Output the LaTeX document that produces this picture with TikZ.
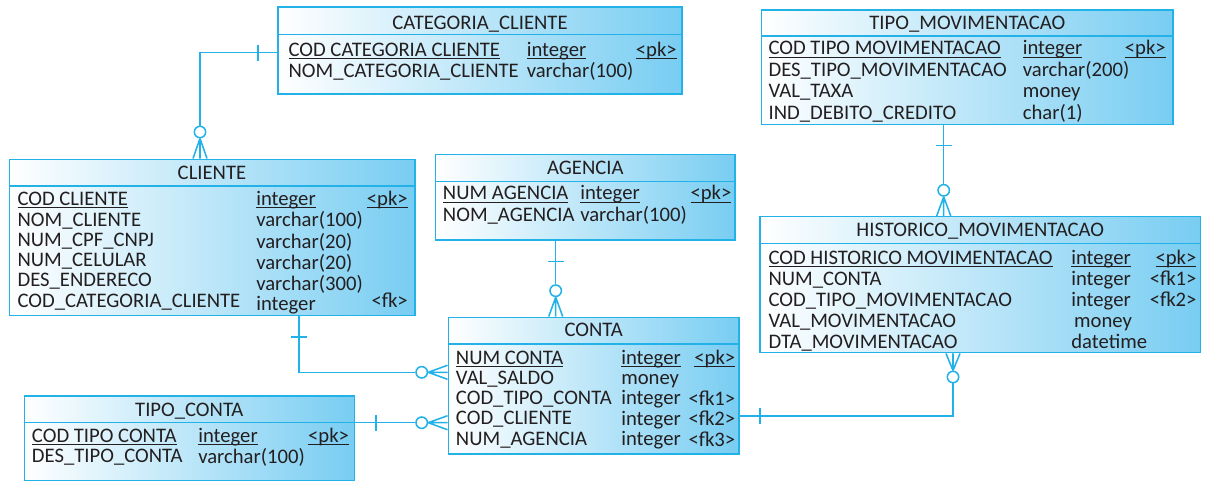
\documentclass[tikz,border=0pt]{standalone}
\usepackage{fontspec}
\setmainfont{Carlito}
\usetikzlibrary{fit,calc}
\definecolor{erline}{RGB}{35,178,232}
\definecolor{erfill}{RGB}{120,205,242}
\definecolor{ertext}{RGB}{35,31,32}
\tikzstyle{entity} = [draw=erline, line width=1.1pt, left color=white, right color=erfill, inner sep=0pt]
\tikzstyle{sepline} = [draw=erline, line width=1.1pt]
\tikzstyle{rel} = [draw=erline, line width=1.1pt]
\tikzstyle{opt} = [circle, draw=erline, line width=1.1pt, fill=white, inner sep=0pt, minimum size=0.285cm]
\tikzstyle{ttl} = [inner sep=0pt, anchor=base, text=ertext, font=\fontsize{14.7}{16}\selectfont]
\tikzstyle{cols} = [inner sep=0pt, text=ertext, anchor=base west]
\tikzstyle{keys} = [inner sep=0pt, text=ertext, anchor=base east]
\newcommand{\rows}[1]{\fontsize{14.7}{#1}\selectfont}
\newcommand{\colL}[1]{\begin{tabular}[t]{@{}l@{}}#1\end{tabular}}
\newcommand{\colR}[1]{\begin{tabular}[t]{@{}r@{}}#1\end{tabular}}
\newcommand{\ulin}[1]{\underline{\smash{#1}}}

\begin{document}
\begin{tikzpicture}[x=0.025cm, y=-0.025cm]
		\useasboundingbox (0,0) rectangle (1208,491);
		% tables
		\node[entity, fit={(278,7) (682,94)}] (catcli) {};
		\draw[sepline] (catcli.west |- 0,34.3) -- (catcli.east |- 0,34.3);
		\node[ttl] (catcli-t) at (480,29.3) {CATEGORIA\_CLIENTE};
		\node[cols, font=\rows{14.65}] (catcli-n) at (288.3,56.7) {\colL{\ulin{COD CATEGORIA CLIENTE}\\NOM\_CATEGORIA\_CLIENTE}};
		\node[cols, font=\rows{14.65}] (catcli-d) at (526.5,56.7) {\colL{\ulin{integer}\\varchar(100)}};
		\node[keys, font=\rows{14.65}] (catcli-k) at (677,56.7) {\colR{\ulin{<pk>}}};

		\node[entity, fit={(761.5,10) (1173,124.3)}] (tipmov) {};
		\draw[sepline] (tipmov.west |- 0,36) -- (tipmov.east |- 0,36);
		\node[ttl] (tipmov-t) at (967.3,29.3) {TIPO\_MOVIMENTACAO};
		\node[cols, font=\rows{15.22}] (tipmov-n) at (768.3,55) {\colL{\ulin{COD TIPO MOVIMENTACAO}\\DES\_TIPO\_MOVIMENTACAO\\VAL\_TAXA\\IND\_DEBITO\_CREDITO}};
		\node[cols, font=\rows{15.22}] (tipmov-d) at (1022.5,55) {\colL{\ulin{integer}\\varchar(200)\\money\\char(1)}};
		\node[keys, font=\rows{15.22}] (tipmov-k) at (1166,55) {\colR{\ulin{<pk>}}};

		\node[entity, fit={(9.3,159.3) (415,315.5)}] (cli) {};
		\draw[sepline] (cli.west |- 0,186) -- (cli.east |- 0,186);
		\node[ttl] (cli-t) at (212,180) {CLIENTE};
		\node[cols, font=\rows{14.44}] (cli-n) at (17.3,205.7) {\colL{\ulin{COD CLIENTE}\\NOM\_CLIENTE\\NUM\_CPF\_CNPJ\\NUM\_CELULAR\\DES\_ENDERECO\\COD\_CATEGORIA\_CLIENTE}};
		\node[cols, font=\rows{14.44}] (cli-d) at (256,205.7) {\colL{\ulin{integer}\\varchar(100)\\varchar(20)\\varchar(20)\\varchar(300)\\integer}};
		\node[keys, font=\rows{14.44}] (cli-k) at (408,205.7) {\colR{\ulin{<pk>}\\ \\ \\ \\ \\<fk>}};

		\node[entity, fit={(435.7,154.3) (735,240)}] (ag) {};
		\draw[sepline] (ag.west |- 0,181.7) -- (ag.east |- 0,181.7);
		\node[ttl] (ag-t) at (585.3,174.3) {AGENCIA};
		\node[cols, font=\rows{15.44}] (ag-n) at (442.7,200) {\colL{\ulin{NUM AGENCIA}\\NOM\_AGENCIA}};
		\node[cols, font=\rows{15.44}] (ag-d) at (580,200) {\colL{\ulin{integer}\\varchar(100)}};
		\node[keys, font=\rows{15.44}] (ag-k) at (731.7,200) {\colR{\ulin{<pk>}}};

		\node[entity, fit={(760,216.7) (1200.7,352.7)}] (hist) {};
		\draw[sepline] (hist.west |- 0,243.3) -- (hist.east |- 0,243.3);
		\node[ttl] (hist-t) at (980.3,236.7) {HISTORICO\_MOVIMENTACAO};
		\node[cols, font=\rows{15.01}] (hist-n) at (768.3,264) {\colL{\ulin{COD HISTORICO MOVIMENTACAO}\\NUM\_CONTA\\COD\_TIPO\_MOVIMENTACAO\\VAL\_MOVIMENTACAO\\DTA\_MOVIMENTACAO}};
		\node[cols, font=\rows{15.01}] (hist-d) at (1071,264) {\colL{\ulin{integer}\\integer\\integer\\\hspace{2pt}money\\datetime}};
		\node[keys, font=\rows{15.01}] (hist-k) at (1196.7,264) {\colR{\ulin{<pk>}\\<fk1>\\<fk2>}};

		\node[entity, fit={(448.3,317.3) (739,454)}] (conta) {};
		\draw[sepline] (conta.west |- 0,344) -- (conta.east |- 0,344);
		\node[ttl] (conta-t) at (593.7,336.7) {CONTA};
		\node[cols, font=\rows{14.37}] (conta-n) at (455.7,364.3) {\colL{\ulin{NUM CONTA}\\VAL\_SALDO\\COD\_TIPO\_CONTA\\COD\_CLIENTE\\NUM\_AGENCIA}};
		\node[cols, font=\rows{14.37}] (conta-d) at (621,364.3) {\colL{\ulin{integer}\\money\\integer\\integer\\integer}};
		\node[keys, font=\rows{14.37}] (conta-k) at (735.5,364.3) {\colR{\ulin{<pk>}\\ \\<fk1>\\<fk2>\\<fk3>}};

		\node[entity, fit={(24.3,396) (354.3,480.7)}] (tipconta) {};
		\draw[sepline] (tipconta.west |- 0,422.3) -- (tipconta.east |- 0,422.3);
		\node[ttl] (tipconta-t) at (189.3,416) {TIPO\_CONTA};
		\node[cols, font=\rows{14.23}] (tipconta-n) at (31.7,442.7) {\colL{\ulin{COD TIPO CONTA}\\DES\_TIPO\_CONTA}};
		\node[cols, font=\rows{14.23}] (tipconta-d) at (198,442.7) {\colL{\ulin{integer}\\varchar(100)}};
		\node[keys, font=\rows{14.23}] (tipconta-k) at (349.3,442.7) {\colR{\ulin{<pk>}}};

		% relationships
		\node[opt] (o1) at (200,132) {};
		\draw[rel] (catcli.west |- 0,52.7) -| (o1.north);
		\draw[rel] (258,44.7) -- (258,60.7);
		\draw[rel] (o1.south) -- (cli.north -| o1.south) (o1.south) -- ($(cli.north -| o1.south)+(-7,0)$) (o1.south) -- ($(cli.north -| o1.south)+(7,0)$);

		\node[opt] (o2) at (943.7,190.3) {};
		\draw[rel] (tipmov.south -| o2) -- (o2.north);
		\draw[rel] (935.7,145.7) -- (951.7,145.7);
		\draw[rel] (o2.south) -- (hist.north -| o2.south) (o2.south) -- ($(hist.north -| o2.south)+(-7,0)$) (o2.south) -- ($(hist.north -| o2.south)+(7,0)$);

		\node[opt] (o3) at (555.7,290.7) {};
		\draw[rel] (ag.south -| o3) -- (o3.north);
		\draw[rel] (547.7,261.7) -- (563.7,261.7);
		\draw[rel] (o3.south) -- (conta.north -| o3.south) (o3.south) -- ($(conta.north -| o3.south)+(-7,0)$) (o3.south) -- ($(conta.north -| o3.south)+(7,0)$);

		\node[opt] (o4) at (421.7,372.3) {};
		\draw[rel] (cli.south -| 299,0) |- (o4.west);
		\draw[rel] (291,337) -- (307,337);
		\draw[rel] (o4.east) -- (conta.west |- o4.east) (o4.east) -- ($(conta.west |- o4.east)+(0,-7)$) (o4.east) -- ($(conta.west |- o4.east)+(0,7)$);

		\node[opt] (o5) at (421.7,422.7) {};
		\draw[rel] (tipconta.east |- o5) -- (o5.west);
		\draw[rel] (376,414.7) -- (376,430.7);
		\draw[rel] (o5.east) -- (conta.west |- o5.east) (o5.east) -- ($(conta.west |- o5.east)+(0,-7)$) (o5.east) -- ($(conta.west |- o5.east)+(0,7)$);

		\node[opt] (o6) at (953,377) {};
		\draw[rel] (conta.east |- 0,416) -| (o6.south);
		\draw[rel] (760,408) -- (760,424);
		\draw[rel] (o6.north) -- (hist.south -| o6.north) (o6.north) -- ($(hist.south -| o6.north)+(-7,0)$) (o6.north) -- ($(hist.south -| o6.north)+(7,0)$);
	\end{tikzpicture}
\end{document}
